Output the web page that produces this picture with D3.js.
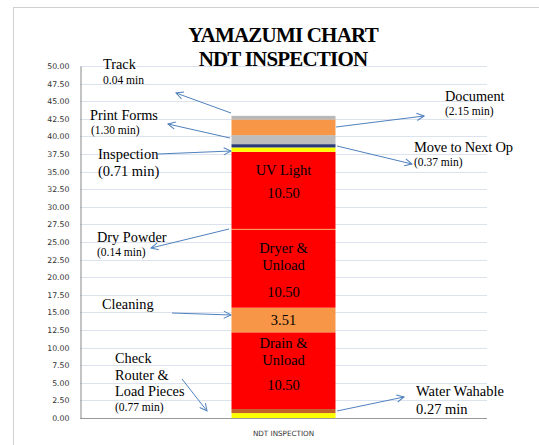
<!DOCTYPE html>
<html>
<head>
<meta charset="utf-8">
<script src="https://cdn.jsdelivr.net/npm/d3@7"></script>
<style>
  body { margin: 0; background: #fff; }
  svg { display: block; }
  .serif { font-family: "Liberation Serif", "Times New Roman", Times, "DejaVu Serif", serif; }
  .sans { font-family: "DejaVu Sans", Verdana, sans-serif; }
</style>
</head>
<body>
<div id="chart"></div>
<script>
// data (bottom to top of the stack)
let categories = ["NDT INSPECTION"];
let stepNames = ["Check Router", "Water Wahable", "Drain & Unload", "Cleaning", "Dryer & Unload",
                 "Dry Powder", "UV Light", "Inspection", "Move to Next Op", "Print Forms", "Document", "Track"];
let stepValues = [0.70, 0.57, 10.90, 3.50, 11.05, 0.14, 10.95, 0.62, 0.47, 1.28, 2.23, 0.51];
let stepColors = ["#ffff00", "#c0602a", "#ff0000", "#f79646", "#ff0000",
                  "#f79646", "#ff0000", "#ffff00", "#2b3a78", "#bdbdbd", "#f79646", "#b8b8b8"];
let yTicks = d3.range(0, 50.01, 2.5);

// text written inside the bar
let barText = [
    {step: "UV Light", lines: ["UV Light", "10.50"], dy: [23, 46]},
    {step: "Dryer & Unload", lines: ["Dryer &", "Unload", "10.50"], dy: [23, 40, 67]},
    {step: "Cleaning", lines: ["3.51"], dy: [17]},
    {step: "Drain & Unload", lines: ["Drain &", "Unload", "10.50"], dy: [16, 33, 58]}
];

let W = 539, H = 445;
let svg = d3.select("#chart").append("svg").attr("width", W).attr("height", H);

// outer chart frame
svg.append("rect")
    .attr("x", 13.5).attr("y", 7.5)
    .attr("width", 600).attr("height", 500)
    .attr("fill", "none").attr("stroke", "#d0d0d0");

let y = d3.scaleLinear().domain([0, 50]).range([418, 66]);
let x = d3.scaleBand().domain(categories).range([80, 487]).padding(0.593);

// gridlines
svg.append("g").selectAll("line")
    .data(yTicks.filter(d => d > 0))
    .enter().append("line")
    .attr("x1", 80).attr("x2", 487)
    .attr("y1", d => Math.round(y(d)) + 0.5)
    .attr("y2", d => Math.round(y(d)) + 0.5)
    .attr("stroke", "#dce3ef");

// y axis
let yAxis = svg.append("g")
    .attr("transform", "translate(80.5,0)")
    .call(d3.axisLeft(y).tickValues(yTicks).tickFormat(d3.format(".2f")).tickSize(0).tickPadding(11));
yAxis.select(".domain").attr("stroke", "#888");
yAxis.selectAll("text")
    .attr("class", "sans")
    .attr("fill", "#333")
    .style("font-size", "7.8px");

// x axis
let xAxis = svg.append("g")
    .attr("transform", "translate(0," + (y(0) + 0.5) + ")")
    .call(d3.axisBottom(x).tickSize(0).tickPadding(12));
xAxis.select(".domain").attr("stroke", "#999").attr("d", "M80,0H487");
xAxis.selectAll("text")
    .attr("class", "sans")
    .attr("fill", "#333")
    .style("font-size", "7.2px");

// stacked bar
let row = {cat: categories[0]};
stepNames.forEach((n, i) => row[n] = stepValues[i]);
let stacked = d3.stack().keys(stepNames)([row]);
let color = d3.scaleOrdinal().domain(stepNames).range(stepColors);

svg.append("g").selectAll("rect")
    .data(stacked)
    .enter().append("rect")
    .attr("x", d => x(d[0].data.cat))
    .attr("width", x.bandwidth())
    .attr("y", d => y(d[0][1]))
    .attr("height", d => y(d[0][0]) - y(d[0][1]))
    .attr("fill", d => color(d.key));

let segTop = {};
stacked.forEach(s => segTop[s.key] = y(s[0][1]));

// labels inside the bar
barText.forEach(function(b) {
    b.lines.forEach(function(t, i) {
        svg.append("text")
            .attr("class", "serif")
            .attr("x", x(categories[0]) + x.bandwidth() / 2)
            .attr("y", segTop[b.step] + b.dy[i])
            .attr("text-anchor", "middle")
            .attr("fill", "#000")
            .style("font-size", "14.5px")
            .text(t);
    });
});

// title
svg.append("text").attr("class", "serif").attr("x", 283).attr("y", 42).attr("text-anchor", "middle")
    .style("font-weight", "bold").style("font-size", "21px").style("letter-spacing", "-0.8px")
    .text("YAMAZUMI CHART");
svg.append("text").attr("class", "serif").attr("x", 283).attr("y", 66).attr("text-anchor", "middle")
    .style("font-weight", "bold").style("font-size", "21px").style("letter-spacing", "-0.8px")
    .text("NDT INSPECTION");

// call-out notes: text lines [string, size, x, baseline]
let notes = [
    [["Track", 14.3, 103, 69], ["0.04 min", 11.5, 103, 84]],
    [["Print Forms", 14.3, 90, 120], ["(1.30 min)", 11.5, 91, 134]],
    [["Inspection", 14.5, 98, 159], ["(0.71 min)", 14.5, 98, 176]],
    [["Dry Powder", 14.3, 97, 242], ["(0.14 min)", 11.5, 97, 256]],
    [["Cleaning", 14.3, 102, 309]],
    [["Check", 14.3, 115, 363], ["Router &", 14.3, 115, 380], ["Load Pieces", 14.3, 115, 396], ["(0.77 min)", 11.5, 115, 411]],
    [["Document", 14.3, 445, 101], ["(2.15 min)", 11.5, 445, 115]],
    [["Move to Next Op", 14.5, 414, 152], ["(0.37 min)", 11.5, 414, 166]],
    [["Water Wahable", 14.5, 416, 396], ["0.27 min", 14.5, 416, 414]]
];
notes.forEach(function(n) {
    n.forEach(function(l) {
        svg.append("text")
            .attr("class", "serif")
            .attr("x", l[2]).attr("y", l[3])
            .attr("fill", "#000")
            .style("font-size", l[1] + "px")
            .style("letter-spacing", l[0] == "Move to Next Op" ? "-0.2px" : "0px")
            .text(l[0]);
    });
});

// arrows [x1, y1, x2, y2] with head at the second point
let arrows = [
    [231, 113, 176, 93], [230, 138, 168, 124], [158, 154, 231, 151],
    [229, 229, 151, 248], [172, 313, 231, 315], [182, 379, 207, 411],
    [336, 127, 424, 116], [337, 146, 412, 164], [337, 411, 404, 397]
];
svg.append("defs").append("marker")
    .attr("id", "head").attr("viewBox", "0 0 10 10")
    .attr("refX", 9).attr("refY", 5)
    .attr("markerWidth", 9).attr("markerHeight", 9)
    .attr("markerUnits", "userSpaceOnUse")
    .attr("orient", "auto")
    .append("path").attr("d", "M1,1L9,5L1,9")
    .attr("fill", "none").attr("stroke", "#4f81bd").attr("stroke-width", 1.1);
svg.append("g").selectAll("line")
    .data(arrows)
    .enter().append("line")
    .attr("x1", d => d[0]).attr("y1", d => d[1])
    .attr("x2", d => d[2]).attr("y2", d => d[3])
    .attr("stroke", "#4f81bd").attr("stroke-width", 1)
    .attr("marker-end", "url(#head)");
</script>
</body>
</html>
